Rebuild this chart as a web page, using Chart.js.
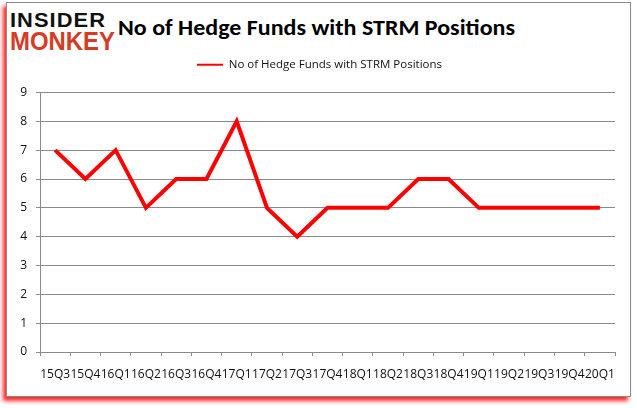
<!DOCTYPE html>
<html>
<head>
<meta charset="utf-8">
<script src="https://cdn.jsdelivr.net/npm/chart.js@4"></script>
<style>
  html, body { margin: 0; padding: 0; background: #fff; }
  body { width: 637px; height: 408px; position: relative; overflow: hidden; }
  #frame {
    position: absolute; left: 6px; top: 2px; width: 623px; height: 393px;
    border: 1px solid #8c8c8c; background: #fff;
    box-shadow: -3px 4px 4px rgba(255, 0, 0, 0.85);
  }
  #logo1, #logo2 {
    position: absolute; left: 10px; font-family: "Liberation Sans", Arial, sans-serif;
    font-weight: 900; line-height: 1; white-space: nowrap; transform-origin: 0 0;
  }
  #logo1 { top: 9px; font-size: 21px; color: #111; letter-spacing: 1px; }
  #logo2 { top: 29px; font-size: 25px; color: #d63b26; }
  #title {
    position: absolute; left: 118px; top: 17px; font-family: Carlito, Lato, "Open Sans", sans-serif;
    font-weight: bold; font-size: 22px; line-height: 1; color: #000; white-space: nowrap;
    transform-origin: 0 0;
  }
  #wrap { position: absolute; left: 0; top: 0; width: 637px; height: 408px; }
</style>
</head>
<body>
<div id="frame"></div>
<div id="logo1">INSIDER</div>
<div id="logo2">MONKEY</div>
<div id="title">No of Hedge Funds with STRM Positions</div>
<div id="wrap"><canvas id="chart" width="637" height="408"></canvas></div>
<script>
const quarters = ['15Q3', '15Q4', '16Q1', '16Q2', '16Q3', '16Q4', '17Q1', '17Q2', '17Q3', '17Q4',
  '18Q1', '18Q2', '18Q3', '18Q4', '19Q1', '19Q2', '19Q3', '19Q4', '20Q1'];
const hedgeFunds = [7, 6, 7, 5, 6, 6, 8, 5, 4, 5, 5, 5, 6, 6, 5, 5, 5, 5, 5];
const seriesName = 'No of Hedge Funds with STRM Positions';

// squeeze header text to the widths seen in the picture
function fitWidth(id, w) {
  const el = document.getElementById(id);
  el.style.transform = 'scaleX(' + (w / el.getBoundingClientRect().width) + ')';
}
fitWidth('title', 397);
fitWidth('logo1', 96);
fitWidth('logo2', 105);

const gridGray = '#898989';
const tickFont = { family: '"Open Sans", sans-serif', size: 12 };

// extra room between legend and plot, and centre the legend on the whole picture
const legendGap = {
  id: 'legendGap',
  beforeInit(chart) {
    if (!chart.legend) return;
    const fit = chart.legend.fit;
    chart.legend.fit = function () {
      fit.call(this);
      this.height += 12;
    };
  },
  afterLayout(chart) {
    if (!chart.legend) return;
    chart.legend.left += 12;
    chart.legend.right += 12;
  }
};

new Chart(document.getElementById('chart').getContext('2d'), {
  type: 'line',
  data: {
    labels: quarters,
    datasets: [{
      label: seriesName,
      data: hedgeFunds,
      borderColor: '#ff0000',
      backgroundColor: '#ff0000',
      borderWidth: 4,
      pointRadius: 0,
      tension: 0,
    }]
  },
  options: {
    responsive: false,
    animation: false,
    layout: { padding: { left: 0, right: 22, top: 51, bottom: 20 } },
    scales: {
      x: {
        offset: true,
        grid: { display: true, drawOnChartArea: false, drawTicks: true, tickLength: 4, color: gridGray, offset: true },
        border: { color: gridGray },
        ticks: { autoSkip: false, maxRotation: 0, minRotation: 0, color: '#111', font: tickFont, padding: 11 },
        afterFit: (s) => { s.height = 36; },
      },
      y: {
        min: 0,
        max: 9,
        grid: { color: gridGray, tickLength: 4 },
        border: { color: gridGray },
        ticks: { stepSize: 1, color: '#111', font: tickFont, padding: 9 },
        afterFit: (s) => { s.width = 40; },
      }
    },
    plugins: {
      legend: {
        labels: {
          usePointStyle: true,
          pointStyle: 'line',
          pointStyleWidth: 26,
          color: '#111',
          font: { family: '"Open Sans", sans-serif', size: 11.5 },
          padding: 8,
          generateLabels: (chart) => Chart.defaults.plugins.legend.labels.generateLabels(chart)
            .map(l => Object.assign(l, { lineWidth: 2, pointStyle: 'line' })),
        }
      },
      tooltip: { enabled: false },
    }
  },
  plugins: [legendGap]
});
</script>
</body>
</html>
